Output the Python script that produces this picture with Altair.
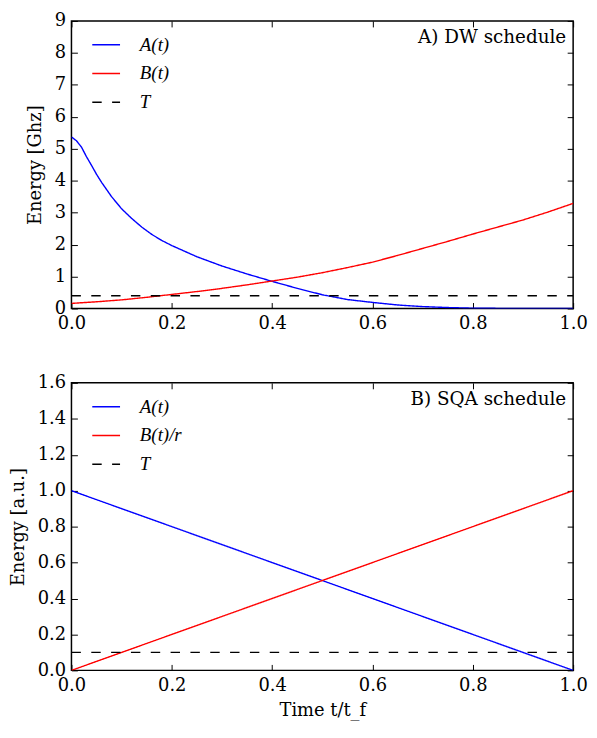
import altair as alt
import pandas as pd

# ---------------- data ----------------
# Panel A: D-Wave schedule
t_a_dw = [0.00, 0.01, 0.02, 0.03, 0.04, 0.05, 0.06, 0.08, 0.10, 0.12, 0.14, 0.16,
          0.18, 0.20, 0.25, 0.30, 0.35, 0.40, 0.45, 0.50, 0.55, 0.60, 0.65, 0.70,
          0.75, 0.80, 0.85, 0.90, 0.95, 1.00]
A_dw = [5.37, 5.25, 5.05, 4.75, 4.48, 4.20, 3.95, 3.50, 3.12, 2.82, 2.55, 2.32,
        2.13, 1.97, 1.62, 1.33, 1.08, 0.85, 0.63, 0.43, 0.28, 0.19, 0.11, 0.06,
        0.03, 0.01, 0.005, 0.002, 0.001, 0.0]
t_b_dw = [0.00, 0.05, 0.10, 0.15, 0.20, 0.25, 0.30, 0.35, 0.40, 0.45, 0.50,
          0.55, 0.60, 0.65, 0.70, 0.75, 0.80, 0.85, 0.90, 0.95, 1.00]
B_dw = [0.16, 0.21, 0.27, 0.35, 0.44, 0.53, 0.63, 0.74, 0.86, 0.98, 1.12,
        1.28, 1.45, 1.66, 1.88, 2.10, 2.33, 2.55, 2.77, 3.02, 3.29]
t_T = [0.0, 1.0]
T_dw = [0.4, 0.4]

# Panel B: SQA schedule
t_sqa = [0.0, 1.0]
A_sqa = [1.0, 0.0]
B_sqa = [0.0, 1.0]
T_sqa = [0.1, 0.1]

labels_dw = ["A(t)", "B(t)", "T"]
labels_sqa = ["A(t)", "B(t)/r", "T"]
notes = ["A) DW schedule", "B) SQA schedule"]
x_ticks = [0.0, 0.2, 0.4, 0.6, 0.8, 1.0]
y_ticks_dw = [0, 1, 2, 3, 4, 5, 6, 7, 8, 9]
y_ticks_sqa = [0.0, 0.2, 0.4, 0.6, 0.8, 1.0, 1.2, 1.4, 1.6]

colors = ["#0000ff", "#ff0000", "#000000"]
dashes = [[1, 0], [1, 0], [9.5, 10.5]]

FONT = "DejaVu Serif"
MATH_FONT = "Liberation Serif"
FS = 18
W, H = 506, 290


def df(t, v, s):
    return pd.DataFrame({"t": t, "v": v, "series": [s] * len(t)})


def tick_axis(orient, values):
    return alt.Axis(orient=orient, values=values, labels=False, domain=False,
                    grid=False, ticks=True, tickSize=6, offset=-6,
                    tickColor="black", tickWidth=1, title=None)


def panel(dA, dB, dT, labels, ymax, yvals, yfmt, ytitle, xtitle, note):
    leg = alt.Legend(orient="none", legendX=20, legendY=9, title=None,
                     symbolType="stroke", symbolSize=784, symbolStrokeWidth=1.5,
                     labelFont=MATH_FONT, labelFontStyle="italic", labelFontSize=19,
                     labelOffset=19, rowPadding=4, padding=0, labelColor="black")
    color = alt.Color("series:N", scale=alt.Scale(domain=labels, range=colors), legend=leg)
    dash = alt.StrokeDash("series:N", scale=alt.Scale(domain=labels, range=dashes), legend=leg)
    xs = alt.Scale(domain=[0, 1], nice=False)
    ys = alt.Scale(domain=[0, ymax], nice=False)

    main_x = alt.Axis(orient="bottom", values=x_ticks, format=".1f", ticks=False,
                      domain=False, grid=False, labelPadding=6, labelFlush=False,
                      labelFont=FONT, labelFontSize=FS, labelColor="black",
                      titleFont=FONT, titleFontSize=FS, titleFontWeight="normal",
                      titleColor="black", titlePadding=8,
                      title=xtitle if xtitle else None)
    main_y = alt.Axis(orient="left", values=yvals, format=yfmt, ticks=False,
                      domain=False, grid=False, labelPadding=6, labelFlush=False,
                      title=ytitle,
                      labelFont=FONT, labelFontSize=FS, labelColor="black",
                      titleFont=FONT, titleFontSize=FS, titleFontWeight="normal",
                      titleColor="black", titlePadding=10)

    lA = alt.Chart(dA).mark_line(strokeWidth=1.4, clip=True).encode(
        x=alt.X("t:Q", scale=xs, axis=main_x),
        y=alt.Y("v:Q", scale=ys, axis=main_y),
        color=color, strokeDash=dash)
    lB = alt.Chart(dB).mark_line(strokeWidth=1.4, clip=True).encode(
        x=alt.X("t:Q", scale=xs, axis=tick_axis("bottom", x_ticks)),
        y=alt.Y("v:Q", scale=ys, axis=tick_axis("left", yvals)),
        color=color, strokeDash=dash)
    lT = alt.Chart(dT).mark_line(strokeWidth=1.4, clip=True).encode(
        x=alt.X("t:Q", scale=xs, axis=tick_axis("top", x_ticks)),
        y=alt.Y("v:Q", scale=ys, axis=tick_axis("right", yvals)),
        color=color, strokeDash=dash)
    txt = alt.Chart(pd.DataFrame({"label": [note]})).mark_text(
        align="right", baseline="alphabetic", font=FONT, fontSize=18.5, color="black"
    ).encode(x=alt.value(W - 7), y=alt.value(22), text="label:N")

    return alt.layer(lA, lB, lT, txt).resolve_axis(
        x="independent", y="independent").properties(width=W, height=H)


top = panel(df(t_a_dw, A_dw, labels_dw[0]), df(t_b_dw, B_dw, labels_dw[1]),
            df(t_T, T_dw, labels_dw[2]), labels_dw, 9, y_ticks_dw, "d",
            "Energy [Ghz]", None, notes[0])
bottom = panel(df(t_sqa, A_sqa, labels_sqa[0]), df(t_sqa, B_sqa, labels_sqa[1]),
               df(t_T, T_sqa, labels_sqa[2]), labels_sqa, 1.6, y_ticks_sqa, ".1f",
               "Energy [a.u.]", "Time t/t_f", notes[1])

chart = alt.vconcat(top, bottom, spacing=40).resolve_scale(
    color="independent", strokeDash="independent"
).resolve_legend(color="independent", strokeDash="independent").properties(
    padding={"left": 0, "top": 0, "right": 0, "bottom": 0},
    background="white"
).configure_view(stroke="black", strokeWidth=1.5).configure_legend(
    labelFont=MATH_FONT, labelFontStyle="italic", labelFontSize=19,
    labelColor="black"
)

chart.save("out.html", embed_options={"renderer": "svg", "actions": False})
